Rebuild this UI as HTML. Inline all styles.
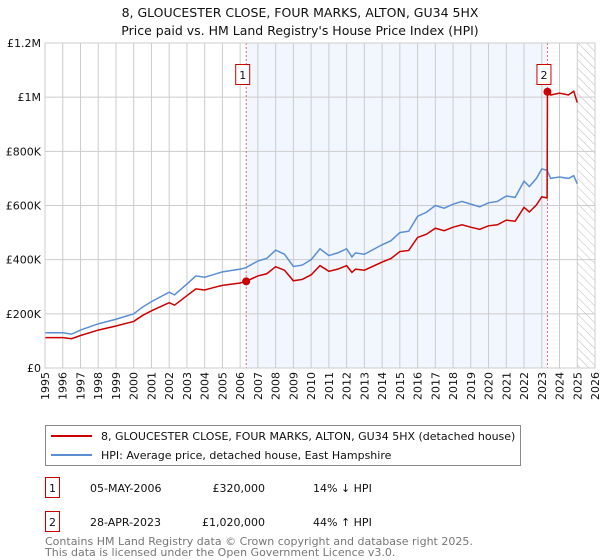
<!DOCTYPE html>
<html><head><meta charset="utf-8"><style>
body{margin:0;background:#fff;font-family:"DejaVu Sans","Liberation Sans",sans-serif;}
svg{display:block}
</style></head><body>
<svg width="600" height="560" viewBox="0 0 600 560" xmlns="http://www.w3.org/2000/svg" font-family="DejaVu Sans, Liberation Sans, sans-serif">
<text x="300" y="17" text-anchor="middle" font-size="12.5" fill="#111">8, GLOUCESTER CLOSE, FOUR MARKS, ALTON, GU34 5HX</text>
<text x="300" y="35" text-anchor="middle" font-size="12.5" fill="#111">Price paid vs. HM Land Registry's House Price Index (HPI)</text>
<g id="plot"></g>
<g>
<rect x="45.5" y="425.5" width="475" height="40" fill="#fff" stroke="#888"/>
<line x1="51" y1="436" x2="92" y2="436" stroke="#cc0000" stroke-width="2"/>
<text x="101" y="440" font-size="11" fill="#111">8, GLOUCESTER CLOSE, FOUR MARKS, ALTON, GU34 5HX (detached house)</text>
<line x1="51" y1="455" x2="92" y2="455" stroke="#5b8fd4" stroke-width="2"/>
<text x="101" y="459" font-size="11" fill="#111">HPI: Average price, detached house, East Hampshire</text>
</g>
<g font-size="11" fill="#111">
<rect x="45.5" y="477.5" width="14" height="20" fill="#fff" stroke="#cc0000"/>
<text x="52.5" y="492" text-anchor="middle">1</text>
<text x="90" y="492">05-MAY-2006</text>
<text x="265" y="492" text-anchor="end">£320,000</text>
<text x="313" y="492">14% ↓ HPI</text>
<rect x="45.5" y="511.5" width="14" height="20" fill="#fff" stroke="#cc0000"/>
<text x="52.5" y="526" text-anchor="middle">2</text>
<text x="90" y="526">28-APR-2023</text>
<text x="265" y="526" text-anchor="end">£1,020,000</text>
<text x="313" y="526">44% ↑ HPI</text>
</g>
<text x="45" y="545" font-size="11" fill="#777">Contains HM Land Registry data © Crown copyright and database right 2025.</text>
<text x="45" y="556" font-size="11" fill="#777">This data is licensed under the Open Government Licence v3.0.</text>
</svg>
<script>
const hpiYears=[1995,1996,1996.5,1997,1998,1999,2000,2000.5,2001,2002,2002.3,2003,2003.5,2004,2004.5,2005,2006,2006.3,2007,2007.5,2008,2008.5,2009,2009.5,2010,2010.5,2011,2011.5,2012,2012.3,2012.5,2013,2014,2014.5,2015,2015.5,2016,2016.5,2017,2017.5,2018,2018.5,2019,2019.5,2020,2020.5,2021,2021.5,2022,2022.3,2022.7,2023,2023.3,2023.5,2024,2024.5,2024.8,2025];
const hpiValues=[130,130,125,140,163,180,200,225,245,280,270,310,340,335,345,355,365,370,395,405,435,420,375,380,400,440,415,425,440,410,425,420,455,470,500,505,560,575,600,590,605,615,605,595,610,615,635,630,690,670,700,735,730,700,705,700,710,680];
const priceYears=[1995,1996,1996.5,1997,1998,1999,2000,2000.5,2001,2002,2002.3,2003,2003.5,2004,2004.5,2005,2006,2006.34,2007,2007.5,2008,2008.5,2009,2009.5,2010,2010.5,2011,2011.5,2012,2012.3,2012.5,2013,2014,2014.5,2015,2015.5,2016,2016.5,2017,2017.5,2018,2018.5,2019,2019.5,2020,2020.5,2021,2021.5,2022,2022.3,2022.7,2023,2023.3,2023.32,2023.5,2024,2024.5,2024.8,2025];
const priceValues=[112,112,108,120,140,155,172,194,211,241,232,267,292,288,297,305,314,320,340,348,374,361,322,327,344,378,357,365,378,353,365,361,391,404,430,434,482,494,516,507,520,529,520,512,525,529,546,542,593,576,602,632,628,1020,1008,1015,1008,1022,980];
const yTicks=[0,200,400,600,800,1000,1200];
const yTickLabels=["£0","£200K","£400K","£600K","£800K","£1M","£1.2M"];
const xTicks=[1995,1996,1997,1998,1999,2000,2001,2002,2003,2004,2005,2006,2007,2008,2009,2010,2011,2012,2013,2014,2015,2016,2017,2018,2019,2020,2021,2022,2023,2024,2025,2026];
const sales=[{n:"1",year:2006.34,value:320},{n:"2",year:2023.32,value:1020}];

const L=45,R=595,T=43,B=368,x0=1995,x1=2026,ymax=1200;
const X=v=>L+(v-x0)/(x1-x0)*(R-L);
const Y=v=>B-v/ymax*(B-T);
const NS="http://www.w3.org/2000/svg";
const g=document.getElementById('plot');
function mk(tag,attrs,parent){const e=document.createElementNS(NS,tag);for(const k in attrs)e.setAttribute(k,attrs[k]);(parent||g).appendChild(e);return e;}

const bg=mk('rect',{x:L,y:T,width:R-L,height:B-T,fill:'#fff'});


const shade=mk('rect',{x:X(sales[0].year),y:T,width:X(sales[1].year)-X(sales[0].year),height:B-T,fill:'#eef3fd',opacity:0.75});


const defs=mk('defs',{});
const pat=mk('pattern',{id:'hatch',width:6,height:6,patternUnits:'userSpaceOnUse',patternTransform:'rotate(-45)'},defs);
mk('line',{x1:0,y1:0,x2:0,y2:6,stroke:'#bbb','stroke-width':1},pat);
const hatch=mk('rect',{x:X(2025),y:T,width:R-X(2025),height:B-T,fill:'url(#hatch)'});



xTicks.forEach(t=>{
  const l=mk('line',{x1:X(t),y1:T,x2:X(t),y2:B,stroke:'#ccc','stroke-width':1});
  
  
  const tx=mk('text',{x:0,y:0,'font-size':11,fill:'#111','text-anchor':'end',transform:`translate(${X(t)+4},${B+4}) rotate(-90)`});
  tx.textContent=t;
  
  
});
yTicks.forEach((t,i)=>{
  const l=mk('line',{x1:L,y1:Y(t),x2:R,y2:Y(t),stroke:'#ccc','stroke-width':1});
  
  
  const tx=mk('text',{x:L-4,y:Y(t)+4,'font-size':11,fill:'#111','text-anchor':'end'});
  tx.textContent=yTickLabels[i];
  
  
});
sales.forEach(s=>{
  const l=mk('line',{x1:X(s.year),y1:T,x2:X(s.year),y2:B,stroke:'#e06666','stroke-width':1,'stroke-dasharray':'2,2'});
  
  
});
const hp=mk('polyline',{points:hpiYears.map((y,i)=>X(y)+','+Y(hpiValues[i])).join(' '),fill:'none',stroke:'#5b8fd4','stroke-width':1.5});


const pp=mk('polyline',{points:priceYears.map((y,i)=>X(y)+','+Y(priceValues[i])).join(' '),fill:'none',stroke:'#cc0000','stroke-width':1.5});


sales.forEach(s=>{
  const c=mk('circle',{cx:X(s.year),cy:Y(s.value),r:4,fill:'#cc0000'});
  
  
  const b=mk('rect',{x:X(s.year)-10.5,y:64.5,width:14,height:20,fill:'#fff',stroke:'#cc0000'});
  
  
  const t=mk('text',{x:X(s.year)-3.5,y:79,'font-size':11,fill:'#111','text-anchor':'middle'});
  t.textContent=s.n;
  
  
});
const ax=mk('rect',{x:L,y:T,width:R-L,height:B-T,fill:'none',stroke:'#ccc'});


</script>
</body></html>
